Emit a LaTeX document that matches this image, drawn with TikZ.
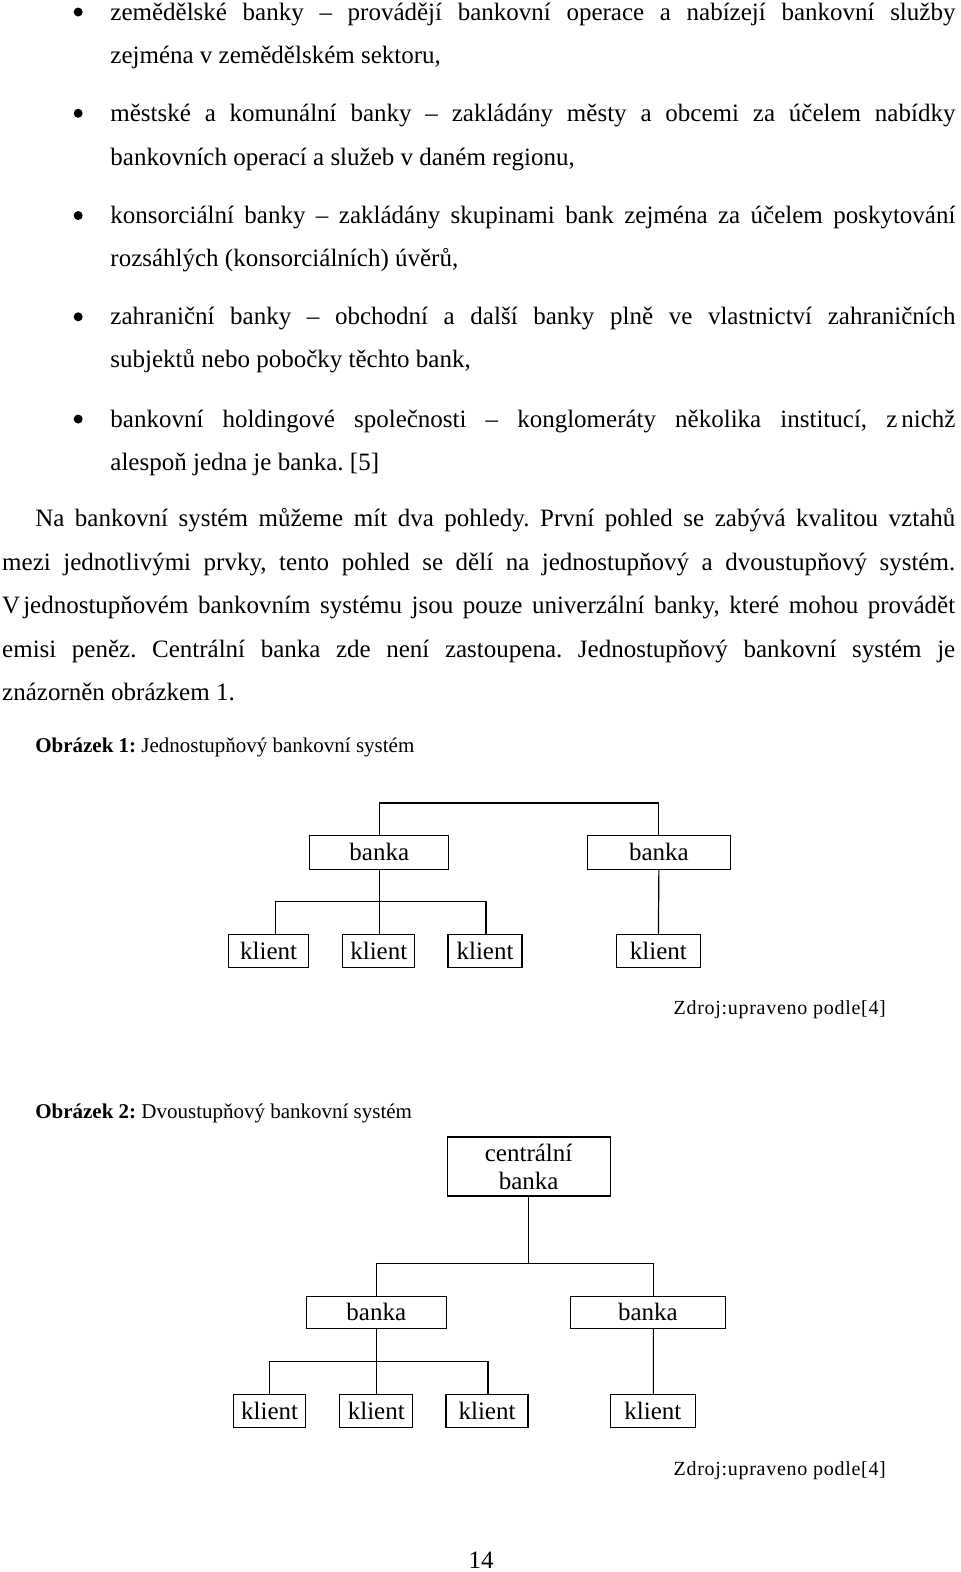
\documentclass[tikz,border=0pt]{standalone}
\usepackage{fontspec}
\setmainfont{Liberation Serif}
\frenchspacing
\newcommand\jline[4]{\node[body] (#1) at (#2) {\makebox[#3][s]{#4}};}
\begin{document}
\begin{tikzpicture}[x=1.0021pt,y=-1.00255pt,
  body/.style={anchor=base west, inner sep=0pt, font=\fontsize{25}{30}\selectfont},
  box/.style={draw, line width=1.2pt, inner sep=0pt, minimum height=33pt, font=\fontsize{25}{28}\selectfont},
  conn/.style={line width=1.2pt},
  capt/.style={anchor=base west, inner sep=0pt, font=\fontsize{21}{24}\selectfont},
  src/.style={anchor=base west, inner sep=0pt, font=\fontsize{20}{24}\selectfont\addfontfeature{LetterSpace=3.6}},
  bul/.style={circle, fill, inner sep=0pt, minimum size=9pt}]
\useasboundingbox (0,0) rectangle (958,1568);

% bullets
\node[bul] (u1) at (78,12) {};
\node[bul] (u2) at (78,113) {};
\node[bul] (u3) at (78,215) {};
\node[bul] (u4) at (78,316) {};
\node[bul] (u5) at (78,418) {};

% bullet texts
\jline{l1}{110,20}{845pt}{zemědělské banky – provádějí bankovní operace a nabízejí bankovní služby}
\node[body] (l2) at (110,63) {zejména v zemědělském sektoru,};
\jline{l3}{110,121}{845pt}{městské a komunální banky – zakládány městy a obcemi za účelem nabídky}
\node[body] (l4) at (110,165) {bankovních operací a služeb v daném regionu,};
\jline{l5}{110,223}{845pt}{konsorciální banky – zakládány skupinami bank zejména za účelem poskytování}
\node[body] (l6) at (110,266) {rozsáhlých (konsorciálních) úvěrů,};
\jline{l7}{110,324}{845pt}{zahraniční banky – obchodní a další banky plně ve vlastnictví zahraničních}
\node[body] (l8) at (110,367) {subjektů nebo pobočky těchto bank,};
\jline{l9}{110,426}{845pt}{bankovní holdingové společnosti – konglomeráty několika institucí, z\hspace{4pt}nichž}
\node[body] (l10) at (110,469) {alespoň jedna je banka. [5]};

% paragraph
\jline{p1}{35,525}{920pt}{Na bankovní systém můžeme mít dva pohledy. První pohled se zabývá kvalitou vztahů}
\jline{p2}{2,569}{953pt}{mezi jednotlivými prvky, tento pohled se dělí na jednostupňový a dvoustupňový systém.}
\jline{p3}{2,612}{953pt}{V\hspace{3pt}jednostupňovém bankovním systému jsou pouze univerzální banky, které mohou provádět}
\jline{p4}{2,656}{953pt}{emisi peněz. Centrální banka zde není zastoupena. Jednostupňový bankovní systém je}
\node[body] (p5) at (2,699) {znázorněn obrázkem 1.};

% figure 1
\node[capt] (c1) at (35,751) {\textbf{Obrázek 1:} Jednostupňový bankovní systém};
\node[box, minimum width=139pt, minimum height=34pt] (a1) at (378.5,850) {banka};
\node[box, minimum width=143pt, minimum height=34pt] (a2) at (657.5,850) {banka};
\node[box, minimum width=80pt] (k1) at (268,948.5) {klient};
\node[box, minimum width=72pt] (k2) at (378,948.5) {klient};
\node[box, minimum width=74pt] (k3) at (484,948.5) {klient};
\node[box, minimum width=84pt] (k4) at (657,948.5) {klient};
\coordinate (t1) at (518,801);
\coordinate (h1) at (378.5,899);
\draw[conn] (a1.north) |- (t1) -| (a2.north);
\draw[conn] (a1.south) -- (h1);
\draw[conn] ([xshift=7pt]k1.north) |- (h1) -| ([xshift=1pt]k3.north);
\draw[conn] (h1) -- (k2.north -| h1);
\draw[conn] (a2.south) -- (k4.north);
\node[src] (s1) at (672,1012) {Zdroj:upraveno podle[4]};

% figure 2
\node[capt] (c2) at (35,1116) {\textbf{Obrázek 2:} Dvoustupňový bankovní systém};
\node[box, minimum width=163pt, minimum height=59pt, align=center, font=\fontsize{25}{28}\selectfont] (cb) at (527.5,1163.5) {centrální\\banka};
\node[box, minimum width=140pt, minimum height=32pt] (b1) at (375.5,1309) {banka};
\node[box, minimum width=155pt, minimum height=32pt] (b2) at (646.5,1309) {banka};
\node[box, minimum width=72pt] (m1) at (269,1407.5) {klient};
\node[box, minimum width=73pt] (m2) at (375.5,1407.5) {klient};
\node[box, minimum width=82pt] (m3) at (486,1407.5) {klient};
\node[box, minimum width=85pt] (m4) at (651.5,1407.5) {klient};
\coordinate (t2) at (527.5,1260);
\coordinate (h2) at (375.5,1358);
\draw[conn] (cb.south) -- (t2);
\draw[conn] (b1.north) |- (t2) -| ([xshift=5.5pt]b2.north);
\draw[conn] (b1.south) -- (h2);
\draw[conn] (m1.north) |- (h2) -| ([xshift=1pt]m3.north);
\draw[conn] (h2) -- (m2.north);
\draw[conn] ([xshift=5.5pt]b2.south) -- ([xshift=0.5pt]m4.north);
\node[src] (s2) at (672,1472) {Zdroj:upraveno podle[4]};

\node[body, anchor=base] (pg) at (480,1564) {14};
\end{tikzpicture}
\end{document}
